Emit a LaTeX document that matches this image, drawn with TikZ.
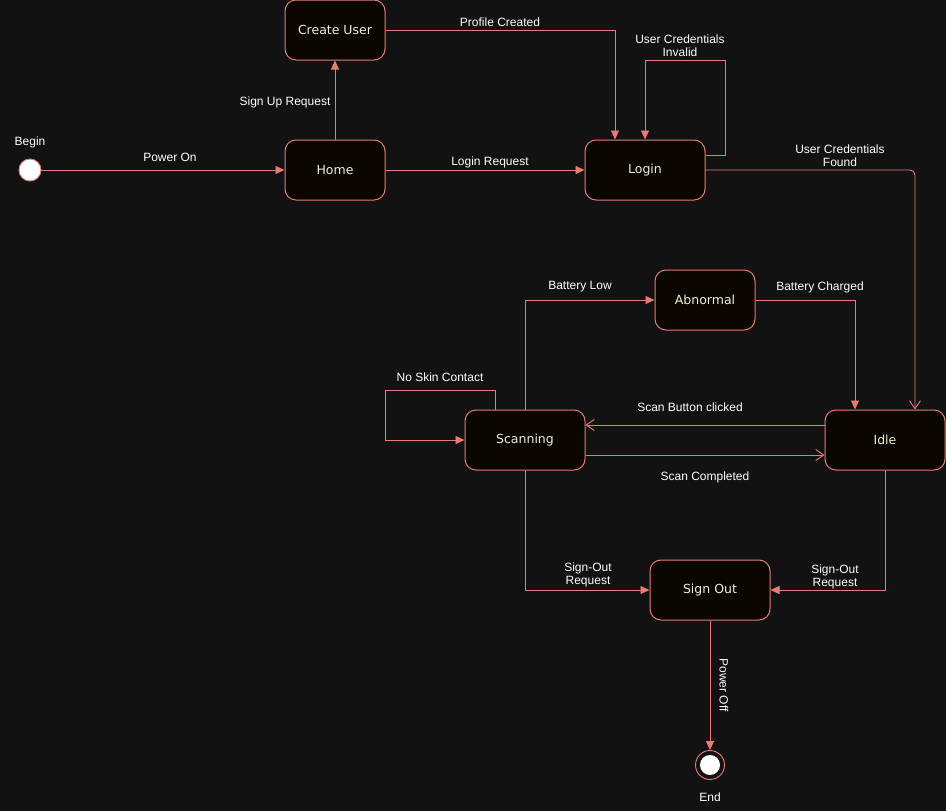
\documentclass[tikz,border=0pt]{standalone}
\usepackage{fontspec}
\setmainfont{Liberation Sans}
\newfontfamily\statefont{DejaVu Sans}
\usetikzlibrary{arrows.meta}
\definecolor{bg}{HTML}{121212}
\definecolor{edge}{HTML}{EA7A75}
\definecolor{statefill}{HTML}{090700}
\definecolor{statetext}{HTML}{F2F0D8}
\tikzset{
  state/.style={draw=edge, fill=statefill, rounded corners=11pt, line width=1pt,
    minimum height=60pt, text=statetext, font=\statefont\fontsize{12.5}{14}\selectfont},
  lbl/.style={text=white, font=\fontsize{12}{13}\selectfont, align=center, inner sep=0pt},
  trans/.style={draw=edge, line width=0.9pt, -{Triangle[length=9pt,width=8pt]}},
  opentrans/.style={draw=edge, line width=0.9pt, -{Straight Barb[length=8pt,width=11pt,line width=0.9pt]}},
}
\begin{document}
\begin{tikzpicture}[x=1pt,y=-1pt]
\fill[bg] (0,0) rectangle (946,811);
\useasboundingbox (0,0) rectangle (946,811);

% states
\node[state, minimum width=100pt] (create) at (335,30) {Create User};
\node[state, minimum width=100pt] (home) at (335,170) {Home};
\node[state, minimum width=120pt] (login) at (645,170) {Login};
\node[state, minimum width=100pt] (abnormal) at (705,300) {Abnormal};
\node[state, minimum width=120pt] (scan) at (525,440) {Scanning};
\node[state, minimum width=120pt] (idle) at (885,440) {Idle};
\node[state, minimum width=120pt] (signout) at (710,590) {Sign Out};

% initial and final pseudo-states
\node[circle, fill=white, draw=edge, line width=0.9pt, minimum size=22pt, inner sep=0pt] (begin) at (30,170) {};
\node[circle, draw=edge, line width=0.9pt, minimum size=29pt, inner sep=0pt] (end) at (710,765) {};
\node[circle, fill=white, minimum size=20pt, inner sep=0pt] (endcore) at (710,765) {};
\node[lbl] (beginlbl) at (30,142) {Begin};
\node[lbl] (endlbl) at (710,797) {End};

% helper corners
\coordinate (c1) at (615,30);
\coordinate (c2) at (725,155);
\coordinate (c3) at (725,60);
\coordinate (c4) at (645,60);
\coordinate (c5) at (915,170);
\coordinate (c6) at (525,300);
\coordinate (c7) at (855,300);
\coordinate (c8) at (495,390);
\coordinate (c9) at (385,390);
\coordinate (c10) at (385,440);
\coordinate (c11) at (525,590);
\coordinate (c12) at (885,590);

% transitions
\draw[trans] (begin.east) -- (home.west);
\draw[trans] (home.north) -- (create.south);
\draw[trans] (create.east) -- (c1) -- (c1 |- login.north);
\draw[trans] (home.east) -- (login.west);
\draw[trans] (login.east |- c2) -- (c2) -- (c3) -- (c4) -- (login.north);
\draw[opentrans, rounded corners=5pt] (login.east) -- (c5) -- (c5 |- idle.north);
\draw[trans] (scan.north) -- (c6) -- (abnormal.west);
\draw[trans] (abnormal.east) -- (c7) -- (c7 |- idle.north);
\draw[trans] (c8 |- scan.north) -- (c8) -- (c9) -- (c10) -- (scan.west);
\draw[opentrans] (idle.west |- 0,425) -- (scan.east |- 0,425);
\draw[opentrans] (scan.east |- 0,455) -- (idle.west |- 0,455);
\draw[trans] (scan.south) -- (c11) -- (signout.west);
\draw[trans] (idle.south) -- (c12) -- (signout.east);
\draw[trans] (signout.south) -- (end.north);

% transition labels
\node[lbl] (l1) at (170,157) {Power On};
\node[lbl] (l2) at (285,102) {Sign Up Request};
\node[lbl] (l3) at (500,22) {Profile Created};
\node[lbl] (l4) at (490,162) {Login Request};
\node[lbl] (l5) at (680,46) {User Credentials\\Invalid};
\node[lbl] (l6) at (840,156) {User Credentials\\Found};
\node[lbl] (l7) at (580,287) {Battery Low};
\node[lbl] (l8) at (820,287) {Battery Charged};
\node[lbl] (l9) at (440,377) {No Skin Contact};
\node[lbl] (l10) at (690,407) {Scan Button clicked};
\node[lbl] (l11) at (705,477) {Scan Completed};
\node[lbl] (l12) at (588,575) {Sign-Out\\Request};
\node[lbl] (l13) at (835,577) {Sign-Out\\Request};
\node[lbl, rotate=-90] (l14) at (724,685) {Power Off};
\end{tikzpicture}
\end{document}
